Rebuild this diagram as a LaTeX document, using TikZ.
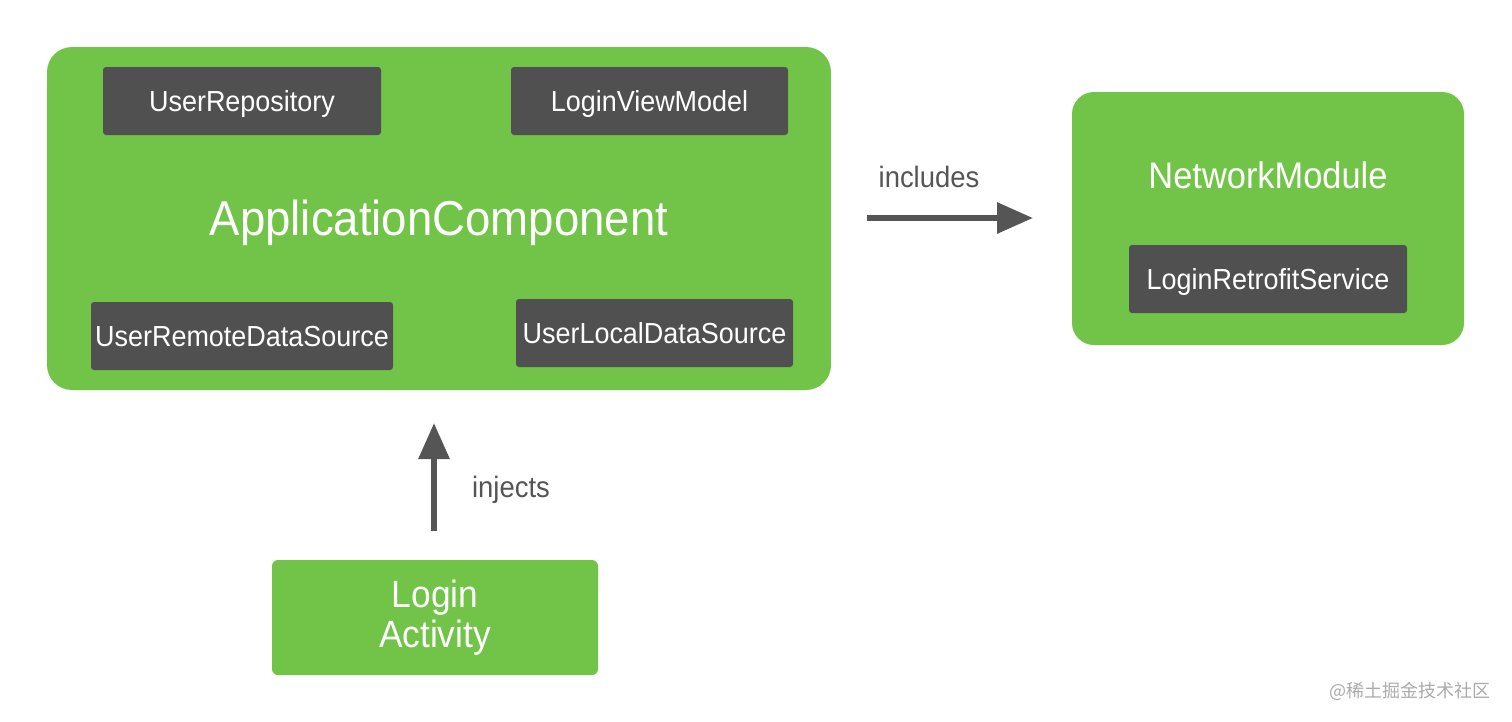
\documentclass[tikz,border=0pt]{standalone}
\usepackage{fontspec}
\setmainfont{Liberation Sans}[FakeStretch=0.93]
\newfontfamily\cjk{Noto Sans CJK SC}
\usetikzlibrary{arrows.meta}
\definecolor{grn}{RGB}{114,196,72}
\definecolor{dk}{RGB}{80,80,80}
\definecolor{arr}{RGB}{85,85,85}
\definecolor{wm}{RGB}{170,170,170}
\tikzset{
  bigbox/.style={fill=grn, draw=none},
  inner/.style={fill=dk, draw=none, rounded corners=3pt, text=white, font=\fontsize{29}{32}\selectfont, inner sep=0pt, text height=21pt, text depth=0pt},
  lbl/.style={text=arr, font=\fontsize{29.5}{32}\selectfont, inner sep=0pt, text height=21pt, text depth=0pt},
  title/.style={text=white, inner sep=0pt, text depth=0pt},
  conn/.style={draw=arr, line width=6pt, -{Triangle[length=36pt,width=30pt]}}
}
\begin{document}
\begin{tikzpicture}[x=1pt,y=-1pt]
\useasboundingbox (0,0) rectangle (1512,721);
% Application component
\path[bigbox, rounded corners=25pt] (47,47) rectangle (831,390);
\node[title, font=\fontsize{49}{52}\selectfont, text height=35pt] (apptitle) at (439,218) {ApplicationComponent};
\node[inner, minimum width=278pt, minimum height=68pt] (repo) at (242,101) {UserRepository};
\node[inner, minimum width=277pt, minimum height=68pt] (vm) at (649.5,101) {LoginViewModel};
\node[inner, minimum width=302pt, minimum height=68pt] (remote) at (242,336) {UserRemoteDataSource};
\node[inner, minimum width=277pt, minimum height=68pt] (local) at (654.5,333) {UserLocalDataSource};
% Network module
\path[bigbox, rounded corners=22pt] (1072,92) rectangle (1464,345);
\node[title, font=\fontsize{37}{40}\selectfont, text height=26.5pt] (nettitle) at (1268,175) {NetworkModule};
\node[inner, minimum width=278pt, minimum height=68pt] (retro) at (1268,279) {LoginRetrofitService};
% Login activity
\node[bigbox, rounded corners=6pt, minimum width=326pt, minimum height=115pt, text=white, align=center, font=\fontsize{38}{40}\selectfont] (login) at (435,617.5) {Login\\Activity};
% connectors
\coordinate (incstart) at (867,218);
\coordinate (incend) at (1033,218);
\draw[conn] (incstart) -- (incend);
\node[lbl] (inclbl) at (929,177) {includes};
\coordinate (injstart) at (434,531);
\coordinate (injend) at (434,423);
\draw[conn] (injstart) -- (injend);
\node[lbl] (injlbl) at (511,487) {injects};
% watermark
\node[text=wm, font=\cjk\fontsize{18}{20}\selectfont, anchor=east] (wmk) at (1494,691) {@稀土掘金技术社区};
\end{tikzpicture}
\end{document}
